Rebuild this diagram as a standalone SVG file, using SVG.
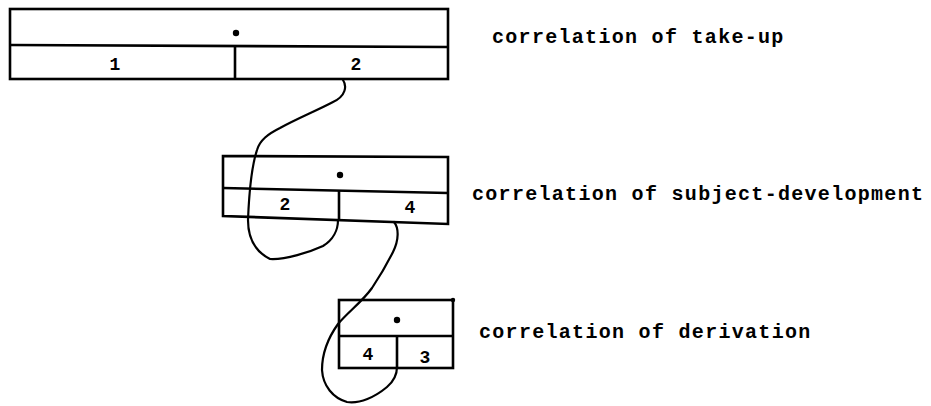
<svg xmlns="http://www.w3.org/2000/svg" width="931" height="406" viewBox="0 0 931 406">
<style>
.box{fill:none;stroke:#000;stroke-width:2.6;stroke-linejoin:miter}
.ln{fill:none;stroke:#000;stroke-width:2.2;stroke-linecap:round;stroke-linejoin:round}
.num{font-family:"Liberation Mono","Courier New",monospace;font-size:18px;font-weight:bold;fill:#000;text-anchor:middle}
.lbl{font-family:"Liberation Mono","Courier New",monospace;font-size:20px;font-weight:bold;letter-spacing:1.3px;fill:#000}
</style>
<rect width="931" height="406" fill="#fff"/>
<g id="take-up">
  <rect class="box" x="10" y="9" width="438" height="70"/>
  <path class="box" d="M10,45 L448,47"/>
  <path class="box" d="M235,47 L235,79"/>
  <circle cx="236" cy="33" r="3.2"/>
  <text class="num" x="115" y="70">1</text>
  <text class="num" x="356" y="70">2</text>
  <text class="lbl" x="492" y="43">correlation of take-up</text>
</g>
<g id="subject-development">
  <path class="box" d="M223,156 L448,157 L448,224 L223,216 Z"/>
  <path class="box" d="M223,188 L448,193"/>
  <path class="box" d="M339,190 L339,221"/>
  <circle cx="340" cy="175" r="3.2"/>
  <text class="num" x="285" y="210">2</text>
  <text class="num" x="410" y="213">4</text>
  <text class="lbl" x="472" y="200">correlation of subject-development</text>
</g>
<g id="derivation">
  <rect class="box" x="339" y="300" width="114" height="68"/>
  <path class="box" d="M339,336 L453,336"/>
  <path class="box" d="M397,336 L397,368"/>
  <circle cx="397" cy="320" r="3.2"/>
  <circle cx="453" cy="300" r="2.2"/>
  <text class="num" x="368" y="360">4</text>
  <text class="num" x="425" y="363">3</text>
  <text class="lbl" x="479" y="338">correlation of derivation</text>
</g>
<g id="connectors">
  <path class="ln" d="M343,80 C347,86 346,96 333,102 C318,110 296,119 280,128 C268,134 260,140 257,150 C252,165 249,195 248,220 C248,235 252,250 270,259 C285,260 310,252 323,246 C333,240 338,230 338,220"/>
  <path class="ln" d="M394,222 C399,228 399,240 393,252 C386,266 380,276 372,288 C362,302 348,312 338,324 C328,338 322,355 322,370 C323,386 333,398 347,402 C360,404 375,397 387,387 C394,381 397,374 397,367"/>
</g>
</svg>
